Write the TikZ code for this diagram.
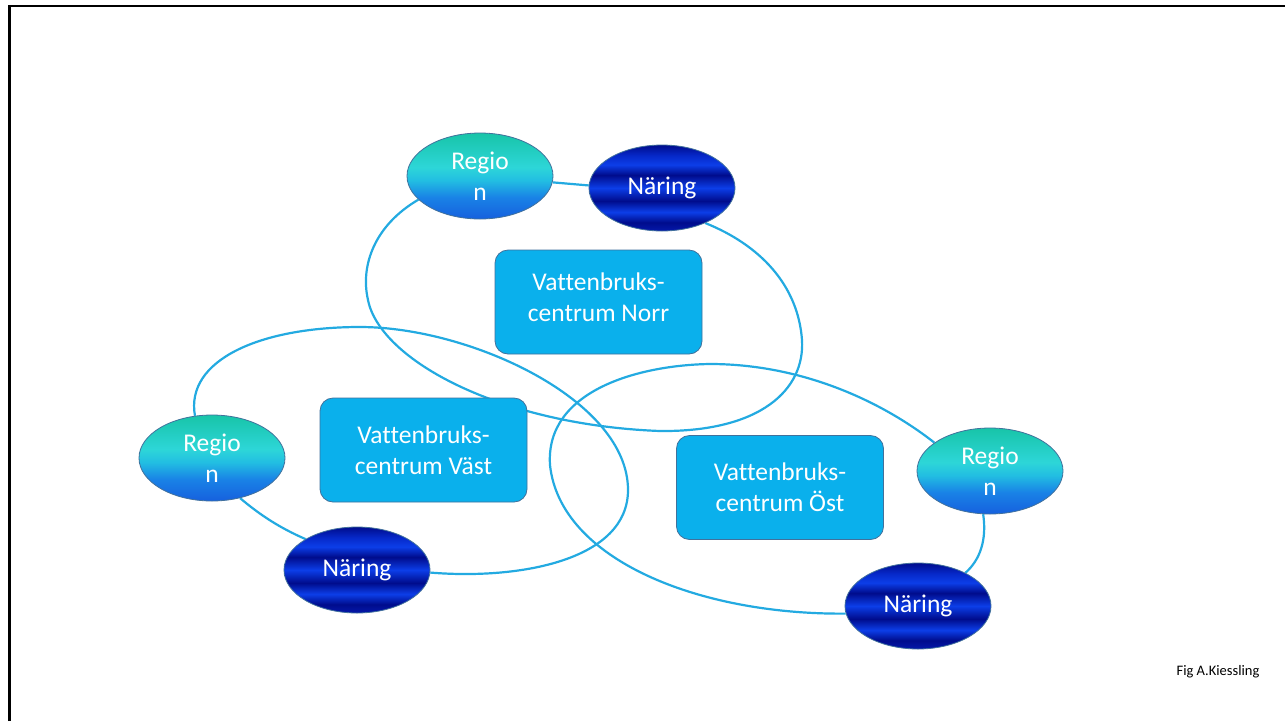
\documentclass[tikz,border=0pt]{standalone}
\usepackage{fontspec}
\setmainfont{Carlito}[Ligatures=NoCommon]
\usetikzlibrary{shapes.geometric,backgrounds}
\definecolor{linkblue}{RGB}{35,170,225}
\definecolor{boxfill}{RGB}{10,176,236}
\definecolor{outl}{RGB}{65,113,156}
\definecolor{rgT}{RGB}{24,196,168}
\definecolor{rgMa}{RGB}{45,214,216}
\definecolor{rgMb}{RGB}{34,190,226}
\definecolor{rgBb}{RGB}{25,130,230}
\definecolor{rgB}{RGB}{22,96,222}
\definecolor{nD}{RGB}{0,12,140}
\definecolor{nDb}{RGB}{4,24,170}
\definecolor{nB}{RGB}{12,62,232}
\definecolor{nM}{RGB}{6,40,200}
\pgfdeclareverticalshading{regionshade}{100bp}{color(0bp)=(rgB); color(25bp)=(rgB); color(37.5bp)=(rgBb); color(47.5bp)=(rgMb); color(55bp)=(rgMa); color(75bp)=(rgT); color(100bp)=(rgT)}
\pgfdeclareverticalshading{naringshade}{100bp}{color(0bp)=(nDb); color(25bp)=(nDb); color(30bp)=(nD); color(36bp)=(nB); color(42.5bp)=(nD); color(50bp)=(nB); color(57.5bp)=(nD); color(63.5bp)=(nB); color(69bp)=(nM); color(75bp)=(nD); color(100bp)=(nD)}
\tikzset{
  regionnode/.style={ellipse, draw=outl, line width=0.8pt, shade, shading=regionshade,
    minimum width=146pt, minimum height=86pt, inner sep=0pt, text=white, align=center,
    font=\fontsize{25.5}{31}\selectfont},
  naringnode/.style={ellipse, draw=outl, line width=0.8pt, shade, shading=naringshade,
    minimum width=146pt, minimum height=86pt, inner sep=0pt, text=white, align=center,
    font=\fontsize{25.5}{31}\selectfont},
  centerbox/.style={rectangle, rounded corners=13pt, draw=outl, line width=0.8pt, fill=boxfill,
    minimum width=207pt, minimum height=104pt, inner sep=0pt, text=white, align=center,
    font=\fontsize{25.5}{31}\selectfont},
  link/.style={draw=linkblue, line width=2.2pt},
  frameline/.style={draw=black, line width=2.8pt}
}
\begin{document}
\begin{tikzpicture}[x=1pt,y=-1pt]
\useasboundingbox (0,0) rectangle (1285,721);
% nodes
\node[regionnode] (RN) at (480,176) {Regio\\n};
\node[naringnode] (NN) at (662,188) {Näring};
\node[regionnode] (RW) at (212,458) {Regio\\n};
\node[naringnode] (NW) at (357,570) {Näring};
\node[regionnode] (RE) at (990,471) {Regio\\n};
\node[naringnode] (NE) at (918,606) {Näring};
\node[centerbox, text depth=10pt] (BN) at (598.5,302) {Vattenbruks-\\centrum Norr};
\node[centerbox] (BW) at (423.5,450) {Vattenbruks-\\centrum Väst};
\node[centerbox] (BE) at (780,487.5) {Vattenbruks-\\centrum Öst};
\node[font=\fontsize{14.5}{17}\selectfont] (credit) at (1218,672) {Fig A.Kiessling};
\begin{scope}[on background layer]
\fill[white] (0,0) rectangle (1285,721);
\draw[frameline] (9.5,721) -- (9.5,6) -- (1285,6);
\draw[link] (RN.201) .. controls (375,225) and (360,265) .. (368,300)
  .. controls (380,360) and (500,425) .. (660,431)
  .. controls (760,432) and (805,390) .. (802,340)
  .. controls (798,285) and (760,245) .. (NN.-39);
\draw[link] (RN.-5) -- (NN.178);
\draw[link] (RW.112) .. controls (185,360) and (260,327) .. (360,327)
  .. controls (470,327) and (628,400) .. (628,490)
  .. controls (628,560) and (520,580) .. (NW.-2);
\draw[link] (RW.-55) .. controls (260,515) and (280,528) .. (NW.149);
\draw[link] (NE.186) .. controls (700,615) and (560,560) .. (550,465)
  .. controls (545,390) and (640,365) .. (710,364)
  .. controls (800,364) and (880,400) .. (RE.153);
\draw[link] (RE.-99) .. controls (987,540) and (980,560) .. (NE.35);
\end{scope}
\end{tikzpicture}
\end{document}
